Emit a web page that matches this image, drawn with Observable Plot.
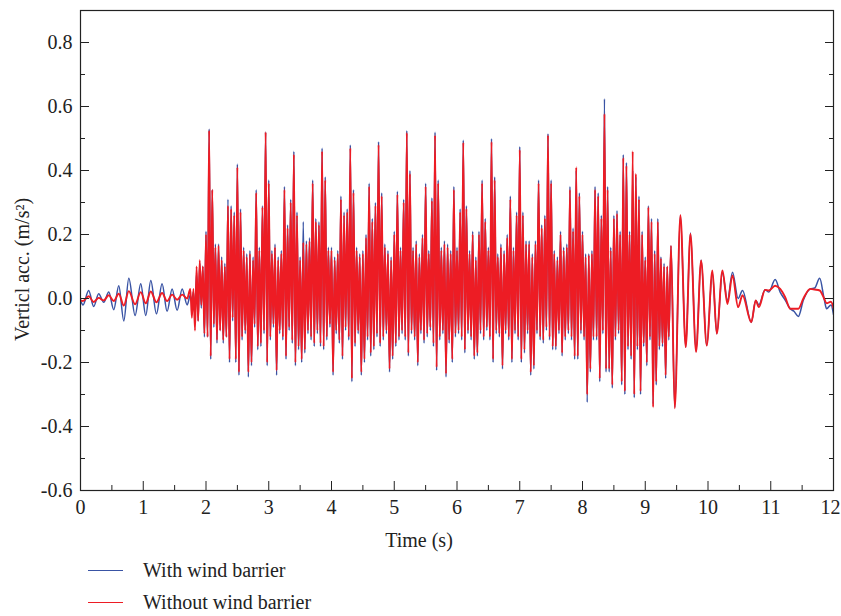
<!DOCTYPE html>
<html><head><meta charset="utf-8">
<script src="https://cdn.jsdelivr.net/npm/d3@7"></script>
<script src="https://cdn.jsdelivr.net/npm/@observablehq/plot@0.6"></script>
<style>
body{margin:0;background:#fff;font-family:"Liberation Serif",serif;}
#legend{position:relative;height:62px;width:841px;}
.item{position:absolute;left:88px;height:32px;display:flex;align-items:center;font-size:20px;color:#222;}
.swatch{display:inline-block;width:35px;height:0;margin-right:20px;}
</style></head><body>
<div id="chart"></div>
<div id="legend"></div>
<script>
// Series names and colours
const seriesNames = ["With wind barrier", "Without wind barrier"];
const seriesColors = ["#3953a4", "#ed1c24"];

// Axis ticks
const xTicks = [0,1,2,3,4,5,6,7,8,9,10,11,12];
const xMinor = [0.5,1.5,2.5,3.5,4.5,5.5,6.5,7.5,8.5,9.5,10.5,11.5];
const yTicks = [-0.6,-0.4,-0.2,0,0.2,0.4,0.6,0.8];
const yMinor = [-0.5,-0.3,-0.1,0.1,0.3,0.5,0.7];
const xLabel = "Time (s)";
const yLabel = "Verticl acc. (m/s²)";

// Before the train arrives (explicit times)
const preT    = [0, 0.04, 0.13, 0.21, 0.29, 0.37, 0.45, 0.53, 0.61, 0.69, 0.77, 0.87, 0.96, 1.04, 1.12, 1.21, 1.30, 1.38, 1.46, 1.54, 1.62, 1.70];
const preBlue = [-0.005, -0.02, 0.025, -0.025, 0.015, -0.012, 0.02, -0.035, 0.04, -0.07, 0.063, -0.053, 0.046, -0.053, 0.056, -0.048, 0.046, -0.04, 0.03, -0.037, 0.03, -0.02];
const preRed  = [-0.006, -0.008, 0.007, -0.011, 0.002, -0.006, 0.01, -0.008, 0.015, -0.022, 0.023, -0.018, 0.02, -0.015, 0.022, -0.012, 0.017, -0.008, 0.012, -0.004, 0.012, 0.0];

// Train passage: samples every 0.025 s starting at 1.75 s (alternating peak / trough)
const denseStart = 1.75, denseStep = 0.025;
const denseRed = [
0.03,-0.06, 0.03,-0.10, 0.10,-0.07, 0.12,-0.02, 0.10,-0.11, 0.20,-0.12, 0.525,-0.18, 0.34,-0.08, 0.16,-0.13, 0.165,-0.10,
0.12,-0.13, 0.10,-0.12, 0.29,-0.19, 0.28,-0.06, 0.26,-0.19, 0.41,-0.23, 0.27,-0.12, 0.15,-0.10, 0.13,-0.23, 0.14,-0.20,
0.12,-0.08, 0.33,-0.15, 0.15,-0.14, 0.285,-0.10, 0.52,-0.20, 0.36,-0.12, 0.14,-0.08, 0.16,-0.225, 0.12,-0.10, 0.14,-0.12,
0.34,-0.18, 0.22,-0.09, 0.30,-0.13, 0.45,-0.20, 0.26,-0.15, 0.12,-0.19, 0.175,-0.16, 0.17,-0.10, 0.18,-0.12, 0.36,-0.14,
0.24,-0.10, 0.23,-0.14, 0.46,-0.15, 0.37,-0.12, 0.15,-0.08, 0.15,-0.23, 0.12,-0.10, 0.14,-0.13, 0.31,-0.18, 0.26,-0.09,
0.27,-0.12, 0.47,-0.25, 0.33,-0.14, 0.15,-0.10, 0.13,-0.23, 0.14,-0.19, 0.19,-0.12, 0.35,-0.17, 0.24,-0.15, 0.29,-0.11,
0.48,-0.14, 0.32,-0.12, 0.16,-0.10, 0.14,-0.22, 0.12,-0.18, 0.20,-0.14, 0.325,-0.12, 0.15,-0.10, 0.30,-0.12, 0.518,-0.17,
0.39,-0.10, 0.15,-0.12, 0.17,-0.20, 0.13,-0.10, 0.19,-0.13, 0.35,-0.11, 0.14,-0.09, 0.305,-0.14, 0.51,-0.215, 0.36,-0.12,
0.15,-0.10, 0.17,-0.235, 0.16,-0.13, 0.14,-0.19, 0.34,-0.11, 0.15,-0.10, 0.27,-0.12, 0.487,-0.16, 0.28,-0.10, 0.14,-0.12,
0.20,-0.18, 0.12,-0.17, 0.20,-0.10, 0.36,-0.12, 0.24,-0.09, 0.15,-0.12, 0.49,-0.19, 0.37,-0.10, 0.13,-0.11, 0.16,-0.21,
0.14,-0.10, 0.19,-0.12, 0.31,-0.19, 0.15,-0.10, 0.26,-0.12, 0.465,-0.19, 0.26,-0.16, 0.17,-0.10, 0.17,-0.23, 0.13,-0.21,
0.17,-0.10, 0.36,-0.12, 0.22,-0.13, 0.25,-0.09, 0.51,-0.12, 0.36,-0.15, 0.14,-0.15, 0.12,-0.10, 0.20,-0.17, 0.15,-0.12,
0.16,-0.10, 0.34,-0.12, 0.21,-0.18, 0.41,-0.18, 0.32,-0.10, 0.20,-0.12, 0.13,-0.30, 0.135,-0.22, 0.14,-0.12, 0.34,-0.12,
0.32,-0.25, 0.25,-0.10, 0.577,-0.22, 0.34,-0.22, 0.15,-0.27, 0.25,-0.12, 0.265,-0.10, 0.20,-0.26, 0.44,-0.29, 0.415,-0.15,
0.20,-0.18, 0.46,-0.30, 0.39,-0.15, 0.31,-0.29, 0.20,-0.14, 0.12,-0.20, 0.285,-0.12, 0.24,-0.34, 0.14,-0.26, 0.24,-0.15,
0.125,-0.14, 0.10,-0.24, 0.10,-0.12
];
const denseBlue = [
0.01,-0.01, 0.02,-0.045, 0.08,-0.07, 0.11,-0.03, 0.10,-0.12, 0.21,-0.12, 0.53,-0.19, 0.34,-0.09, 0.17,-0.14, 0.17,-0.10,
0.13,-0.14, 0.11,-0.12, 0.31,-0.20, 0.29,-0.07, 0.27,-0.20, 0.42,-0.24, 0.28,-0.13, 0.16,-0.11, 0.14,-0.245, 0.15,-0.21,
0.13,-0.09, 0.34,-0.16, 0.16,-0.15, 0.29,-0.11, 0.52,-0.21, 0.37,-0.13, 0.15,-0.09, 0.17,-0.24, 0.13,-0.11, 0.15,-0.13,
0.35,-0.19, 0.23,-0.10, 0.31,-0.14, 0.46,-0.21, 0.27,-0.16, 0.13,-0.20, 0.24,-0.17, 0.18,-0.11, 0.19,-0.13, 0.37,-0.15,
0.25,-0.11, 0.24,-0.15, 0.47,-0.16, 0.38,-0.13, 0.16,-0.09, 0.16,-0.24, 0.13,-0.11, 0.15,-0.14, 0.32,-0.19, 0.27,-0.10,
0.28,-0.13, 0.48,-0.26, 0.34,-0.15, 0.16,-0.11, 0.14,-0.24, 0.15,-0.20, 0.20,-0.13, 0.36,-0.18, 0.25,-0.16, 0.30,-0.12,
0.49,-0.15, 0.33,-0.13, 0.17,-0.11, 0.15,-0.23, 0.13,-0.19, 0.21,-0.15, 0.335,-0.13, 0.16,-0.11, 0.31,-0.13, 0.525,-0.18,
0.40,-0.11, 0.16,-0.13, 0.18,-0.21, 0.14,-0.11, 0.20,-0.14, 0.36,-0.12, 0.15,-0.10, 0.315,-0.15, 0.52,-0.225, 0.37,-0.13,
0.16,-0.11, 0.18,-0.245, 0.17,-0.14, 0.15,-0.20, 0.35,-0.12, 0.16,-0.11, 0.28,-0.13, 0.495,-0.17, 0.29,-0.11, 0.15,-0.13,
0.21,-0.19, 0.13,-0.18, 0.21,-0.11, 0.37,-0.13, 0.25,-0.10, 0.16,-0.13, 0.50,-0.20, 0.38,-0.11, 0.14,-0.12, 0.17,-0.22,
0.15,-0.11, 0.20,-0.13, 0.32,-0.20, 0.16,-0.11, 0.27,-0.13, 0.475,-0.20, 0.27,-0.17, 0.18,-0.11, 0.18,-0.24, 0.14,-0.22,
0.18,-0.11, 0.37,-0.13, 0.23,-0.14, 0.26,-0.10, 0.515,-0.13, 0.37,-0.16, 0.15,-0.16, 0.13,-0.11, 0.21,-0.18, 0.16,-0.13,
0.17,-0.11, 0.35,-0.13, 0.22,-0.19, 0.40,-0.19, 0.33,-0.11, 0.21,-0.13, 0.14,-0.324, 0.14,-0.23, 0.15,-0.13, 0.35,-0.13,
0.33,-0.26, 0.26,-0.11, 0.624,-0.23, 0.35,-0.23, 0.16,-0.28, 0.26,-0.13, 0.275,-0.11, 0.21,-0.27, 0.45,-0.30, 0.425,-0.16,
0.21,-0.19, 0.40,-0.31, 0.38,-0.16, 0.32,-0.30, 0.21,-0.15, 0.13,-0.21, 0.29,-0.13, 0.25,-0.33, 0.15,-0.27, 0.25,-0.16,
0.13,-0.15, 0.11,-0.25, 0.10,-0.13
];

// After the train leaves (explicit times)
const postT    = [9.41, 9.47, 9.56, 9.645, 9.72, 9.81, 9.89, 9.98, 10.07, 10.14, 10.23, 10.31, 10.39, 10.48, 10.55, 10.69, 10.76, 10.81, 10.91, 10.97, 11.07, 11.15, 11.23, 11.31, 11.37, 11.44, 11.52, 11.63, 11.70, 11.78, 11.85, 11.89, 11.96, 12.0];
const postBlue = [0.165, -0.34, 0.26, -0.152, 0.205, -0.165, 0.12, -0.147, 0.08, -0.11, 0.08, -0.006, 0.082, 0.0, 0.025, -0.074, -0.006, -0.02, 0.027, 0.02, 0.059, 0.02, -0.005, -0.032, -0.04, -0.056, -0.005, 0.03, 0.033, 0.063, 0.0, -0.032, -0.02, -0.05];
const postRed  = [0.165, -0.343, 0.26, -0.152, 0.202, -0.167, 0.119, -0.147, 0.088, -0.11, 0.088, -0.017, 0.072, -0.027, 0.01, -0.074, -0.006, -0.027, 0.027, 0.025, 0.04, 0.03, 0.004, -0.032, -0.032, -0.032, 0.0, 0.03, 0.028, 0.025, 0.0, -0.015, -0.01, -0.03];

function build(pre, dense, post) {
  const rows = [];
  preT.forEach((t, i) => rows.push({t, v: pre[i]}));
  dense.forEach((v, i) => rows.push({t: denseStart + i * denseStep, v}));
  postT.forEach((t, i) => rows.push({t, v: post[i]}));
  return rows;
}
const blueRows = build(preBlue, denseBlue, postBlue);
const redRows = build(preRed, denseRed, postRed);

const blank = () => "";
const ink = "#222";
const chart = Plot.plot({
  width: 841, height: 554,
  marginLeft: 80, marginRight: 8, marginTop: 10, marginBottom: 64,
  x: {domain: [0, 12]},
  y: {domain: [-0.6, 0.9]},
  style: {fontFamily: '"Liberation Serif", serif', fontSize: "20px", color: ink, background: "white"},
  marks: [
    Plot.line(blueRows, {x: "t", y: "v", stroke: seriesColors[0], strokeWidth: 1.5, curve: "monotone-x", clip: true}),
    Plot.line(redRows, {x: "t", y: "v", stroke: seriesColors[1], strokeWidth: 1.9, curve: "monotone-x", clip: true}),
    Plot.frame({stroke: ink, strokeWidth: 1.2}),
    // x tick labels (last one right-aligned to stay inside the picture)
    Plot.text(xTicks.slice(0, -1), {x: d => d, frameAnchor: "bottom", lineAnchor: "top", textAnchor: "middle", dy: 9, text: d => String(d), fill: ink}),
    Plot.text(xTicks.slice(-1), {x: d => d, frameAnchor: "bottom", lineAnchor: "top", textAnchor: "end", dy: 9, dx: 7, text: d => String(d), fill: ink}),
    Plot.axisX({ticks: xTicks, tickSize: -9, tickFormat: blank, label: null}),
    Plot.axisX({ticks: xMinor, tickSize: -5, tickFormat: blank, label: null}),
    Plot.axisY({ticks: yTicks, tickSize: 0, tickPadding: 8, tickFormat: d => d.toFixed(1), label: null}),
    Plot.axisY({ticks: yTicks, tickSize: -9, tickFormat: blank, label: null}),
    Plot.axisY({ticks: yMinor, tickSize: -5, tickFormat: blank, label: null}),
    Plot.axisY({anchor: "right", ticks: yTicks, tickSize: -9, tickFormat: blank, label: null}),
    Plot.axisY({anchor: "right", ticks: yMinor, tickSize: -5, tickFormat: blank, label: null}),
    Plot.text([xLabel], {frameAnchor: "bottom", textAnchor: "middle", lineAnchor: "middle", dy: 50, dx: -38, fontSize: 20, fill: ink}),
    Plot.text([yLabel], {frameAnchor: "left", textAnchor: "middle", lineAnchor: "middle", dx: -58, dy: 19, rotate: -90, fontSize: 20, fill: ink})
  ]
});
document.getElementById("chart").appendChild(chart);

const legend = document.getElementById("legend");
seriesNames.forEach((name, i) => {
  const item = document.createElement("div");
  item.className = "item";
  item.style.top = (i * 32) + "px";
  const sw = document.createElement("span");
  sw.className = "swatch";
  sw.style.borderTop = "1.5px solid " + seriesColors[i];
  item.appendChild(sw);
  item.appendChild(document.createTextNode(name));
  legend.appendChild(item);
});
</script></body></html>
